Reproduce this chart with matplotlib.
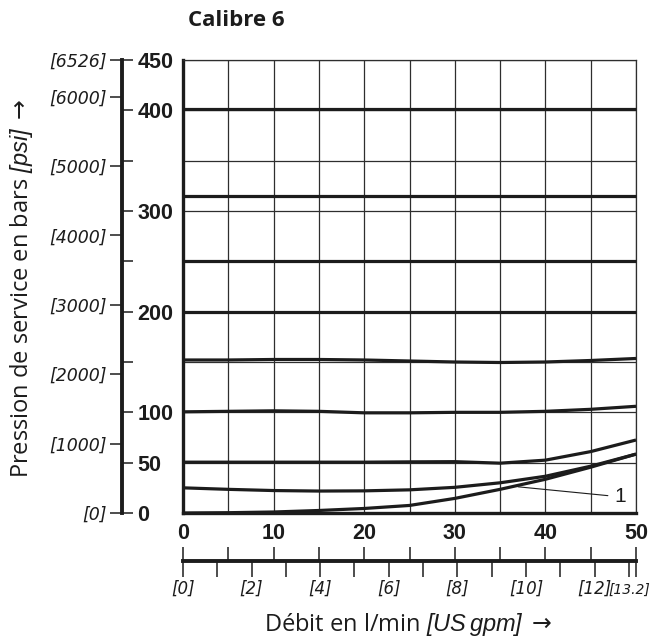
import matplotlib
matplotlib.use('Agg')
import matplotlib.pyplot as plt

BAR_EN_PSI = 14.5038   # 1 bar = 14.5038 psi
GPM_EN_LMIN = 3.78541  # 1 US gpm = 3.78541 l/min

# Débit en l/min (abscisse commune)
debit = [0, 5, 10, 15, 20, 25, 30, 35, 40, 45, 50]

# Pressions réglées (bar) en fonction du débit
p_400 = [401, 401, 401, 401, 401, 401, 401, 401, 401, 401, 401]
p_315 = [315, 315, 315, 315, 315, 315, 315, 315, 315, 315, 315]
p_250 = [250, 250, 250, 250, 250, 250, 250, 250, 250, 250, 250]
p_200 = [200, 200, 200, 200, 200, 200, 200, 200, 200, 200, 200]
p_150 = [152, 152, 152.5, 152.5, 152, 151, 150, 149.5, 150, 151.5, 153.5]
p_100 = [100.5, 101, 101.5, 101, 99.5, 99.5, 100, 100, 101, 103, 106]
p_50 = [50.5, 50.5, 50.5, 50.5, 50.5, 50.8, 51, 49.5, 52.5, 61, 72.5]
p_25 = [25, 23.5, 22.3, 21.8, 22, 23, 25.5, 30, 36.5, 46.5, 58.5]
# Courbe 1 : pression minimale réglable
p_min = [0, 0.3, 1, 2.5, 4.5, 7.5, 14.5, 23.5, 33.5, 45.5, 58.5]

courbes = [p_400, p_315, p_250, p_200, p_150, p_100, p_50, p_25, p_min]

# Graduations
bars_ticks = [0, 50, 100, 150, 200, 250, 300, 350, 400, 450]
bars_labels = ['0', '50', '100', '', '200', '', '300', '', '400', '450']
psi_ticks = [0, 1000, 2000, 3000, 4000, 5000, 6000, 6526]
gpm_ticks = [0, 1, 2, 3, 4, 5, 6, 7, 8, 9, 10, 11, 12, 13]
gpm_labels = ['[0]', '', '[2]', '', '[4]', '', '[6]', '', '[8]', '',
              '[10]', '', '[12]', '']
gpm_max = 13.2

W, H = 651, 642
NOIR = '#1c1c1c'
GRILLE = '#2e2e2e'

# Parties en italique des libellés (unités US) via mathtext
plt.rcParams['mathtext.fontset'] = 'custom'
plt.rcParams['mathtext.rm'] = 'Liberation Sans:italic'
plt.rcParams['mathtext.it'] = 'Liberation Sans:italic'
plt.rcParams['mathtext.sf'] = 'DejaVu Sans'

fig = plt.figure(figsize=(W / 100, H / 100), dpi=100)


def cadre(x0, y0, x1, y1):
    """Rectangle en pixels (origine en haut à gauche) -> coordonnées figure."""
    return [x0 / W, 1 - y1 / H, (x1 - x0) / W, (y1 - y0) / H]


# --- Diagramme principal ---
ax = fig.add_axes(cadre(183, 60, 636, 513))
ax.set_xlim(0, 50)
ax.set_ylim(0, 450)
ax.set_xticks(range(0, 51, 10))
ax.set_xticks(range(5, 50, 10), minor=True)
ax.set_yticks(bars_ticks)
ax.set_yticklabels([])
ax.grid(True, which='both', color=GRILLE, lw=0.9, zorder=1)
ax.tick_params(axis='both', which='both', length=0)
ax.tick_params(axis='x', pad=7, labelsize=15.5)
for t in ax.get_xticklabels():
    t.set_fontfamily('Liberation Sans')
    t.set_fontweight('bold')
    t.set_color(NOIR)
for cote in ['top', 'right']:
    ax.spines[cote].set_linewidth(0.9)
    ax.spines[cote].set_color(GRILLE)
for cote in ['left', 'bottom']:
    ax.spines[cote].set_linewidth(2.4)
    ax.spines[cote].set_color(NOIR)

for p in courbes:
    ax.plot(debit, p, color=NOIR, lw=2.3, solid_capstyle='butt', zorder=3,
            clip_on=False)

ax.annotate('1', xy=(37, 26), xytext=(48.3, 16), ha='center', va='center',
            fontsize=15, fontfamily='Liberation Sans', color=NOIR,
            arrowprops=dict(arrowstyle='-', lw=0.8, color=NOIR,
                            shrinkA=3, shrinkB=0))

# --- Échelle de pression bar / [psi] ---
ax_p = fig.add_axes(cadre(122, 60, 122.05, 513))
ax_p.set_ylim(0, 450)
ax_p.set_xticks([])
for cote in ['top', 'bottom', 'left']:
    ax_p.spines[cote].set_visible(False)
ax_p.spines['right'].set_linewidth(2.8)
ax_p.spines['right'].set_color(NOIR)
ax_p.yaxis.tick_right()
ax_p.set_yticks(bars_ticks, bars_labels)
ax_p.tick_params(axis='y', length=8, width=1.1, pad=3, labelsize=15.5,
                 colors=NOIR)
for t in ax_p.get_yticklabels():
    t.set_fontfamily('Liberation Sans')
    t.set_fontweight('bold')

ax_psi = ax_p.secondary_yaxis('left', functions=(lambda b: b * BAR_EN_PSI,
                                                  lambda s: s / BAR_EN_PSI))
ax_psi.set_yticks(psi_ticks, [f'[{v}]' for v in psi_ticks])
ax_psi.tick_params(axis='y', length=9, width=1.1, pad=2, labelsize=12.5,
                   colors=NOIR)
ax_psi.spines['left'].set_visible(False)
for t in ax_psi.get_yticklabels():
    t.set_fontfamily('DejaVu Sans')
    t.set_fontstyle('italic')

# --- Échelle de débit l/min / [US gpm] ---
ax_q = fig.add_axes(cadre(183, 561, 636, 561.05))
ax_q.set_xlim(0, 50)
ax_q.set_yticks([])
for cote in ['bottom', 'left', 'right']:
    ax_q.spines[cote].set_visible(False)
ax_q.spines['top'].set_linewidth(2.8)
ax_q.spines['top'].set_color(NOIR)
ax_q.xaxis.tick_top()
ax_q.set_xticks(range(0, 51, 5), [])
ax_q.tick_params(axis='x', length=10, width=1.1, colors=NOIR)

ax_gpm = ax_q.secondary_xaxis('bottom', functions=(lambda q: q / GPM_EN_LMIN,
                                                    lambda g: g * GPM_EN_LMIN))
ax_gpm.set_xticks(gpm_ticks + [gpm_max], gpm_labels + [''])
ax_gpm.tick_params(axis='x', length=11.5, width=1.1, pad=2, labelsize=12,
                   colors=NOIR)
ax_gpm.spines['bottom'].set_visible(False)
for t in ax_gpm.get_xticklabels():
    t.set_fontfamily('DejaVu Sans')
    t.set_fontstyle('italic')
# Dernière graduation (débit maxi), libellé resserré contre la précédente
ax_q.annotate(f'[{gpm_max}]', xy=(gpm_max * GPM_EN_LMIN, 0),
              xycoords=('data', 'axes fraction'), xytext=(-4.5, -25.5),
              textcoords='offset points', ha='center', va='bottom',
              fontsize=10, fontfamily='DejaVu Sans', fontstyle='italic',
              color=NOIR)

# --- Titres ---
fig.text(188 / W, 1 - 26 / H, 'Calibre 6', fontsize=16, fontweight='bold',
         fontfamily='Open Sans', color=NOIR, va='baseline', ha='left')
fig.text(22 / W, 1 - 288 / H,
         r'Pression de service en bars $[psi]$ $\mathsf{\rightarrow}$',
         rotation=90, fontsize=17, fontfamily='Open Sans', color=NOIR,
         ha='center', va='center')
fig.text(408 / W, 1 - 625 / H,
         r'Débit en l/min $[US\,gpm]$ $\mathsf{\rightarrow}$',
         fontsize=17, fontfamily='Open Sans', color=NOIR,
         ha='center', va='center')

fig.savefig('out.png', dpi=100, facecolor='white')
